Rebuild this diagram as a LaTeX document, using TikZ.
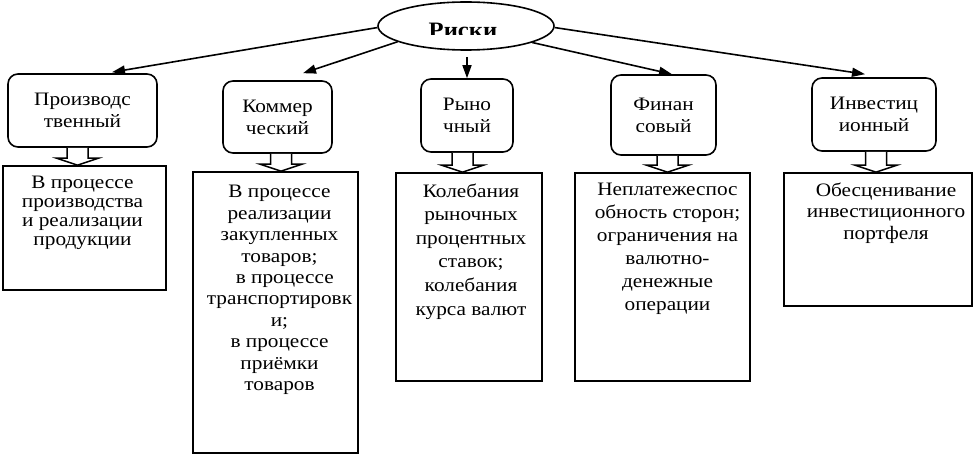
\documentclass[tikz,border=0pt]{standalone}
\usepackage{fontspec}
\setmainfont{Liberation Serif}[FakeStretch=1.12]
\usetikzlibrary{calc,shapes.geometric,arrows.meta}
\begin{document}
\begin{tikzpicture}[x=1pt,y=-1pt,
  topbox/.style={draw, line width=1.6pt, rounded corners=10pt, inner sep=0pt, align=center,
    font=\fontsize{19}{22}\selectfont},
  botbox/.style={draw, line width=1.6pt, inner sep=0pt},
  bottext/.style={anchor=north, inner sep=0pt, align=center},
  arr/.style={line width=1.6pt, -{Triangle[length=13pt,width=9pt]}},
  blockarrow/.style={draw, line width=1.5pt, fill=white, line join=miter}
]
\useasboundingbox (0,0) rectangle (973,462);

% root ellipse
\node[ellipse, draw, line width=1.6pt, minimum width=176pt, minimum height=48pt, inner sep=0pt] (ell) at (466,26) {};
\begin{scope}
  \clip (380,0) rectangle (560,35);
  \node[anchor=base, inner sep=0pt, font=\bfseries\fontsize{22}{22}\selectfont] (riski) at (463,37.5) {Риски};
\end{scope}

% category boxes
\node[topbox, minimum width=149pt, minimum height=73pt] (p1) at (82.5,110.5) {Производс\\твенный};
\node[topbox, minimum width=109pt, minimum height=72pt] (p2) at (277.5,117) {Коммер\\ческий};
\node[topbox, minimum width=92pt, minimum height=73pt] (p3) at (467,115.5) {Рыно\\чный};
\node[topbox, minimum width=105pt, minimum height=80pt] (p4) at (663.5,115) {Финан\\совый};
\node[topbox, minimum width=124pt, minimum height=73pt] (p5) at (874,114.5) {Инвестиц\\ионный};

% description boxes
\node[botbox, minimum width=163pt, minimum height=124pt] (b1) at (84.5,228) {};
\node[botbox, minimum width=165pt, minimum height=281pt] (b2) at (275.5,312.5) {};
\node[botbox, minimum width=146pt, minimum height=208pt] (b3) at (469,277) {};
\node[botbox, minimum width=175pt, minimum height=208pt] (b4) at (662.5,277) {};
\node[botbox, minimum width=188pt, minimum height=133pt] (b5) at (878,239.5) {};

\node[bottext, font=\fontsize{19}{18.8}\selectfont] (t1) at ([xshift=-2pt,yshift=-11pt]b1.north)
  {В процессе\\производства\\и реализации\\продукции};
\node[bottext, font=\fontsize{19}{21.4}\selectfont] (t2) at ([xshift=4pt,yshift=-14pt]b2.north)
  {В процессе\\реализации\\закупленных\\товаров;\\\ \ в процессе\\транспортировк\\и;\\в процессе\\приёмки\\товаров};
\node[bottext, font=\fontsize{19}{23.6}\selectfont] (t3) at ([xshift=2pt,yshift=-11pt]b3.north)
  {Колебания\\рыночных\\процентных\\ставок;\\колебания\\курса валют};
\node[bottext, font=\fontsize{19}{23}\selectfont] (t4) at ([xshift=5pt,yshift=-11pt]b4.north)
  {Неплатежеспос\\обность сторон;\\ограничения на\\валютно-\\денежные\\операции};
\node[bottext, font=\fontsize{19}{21.7}\selectfont] (t5) at ([xshift=8pt,yshift=-10pt]b5.north)
  {Обесценивание\\инвестиционного\\портфеля};

% arrows from root
\draw[arr] (ell.181) -- ([xshift=29.5pt,yshift=1pt]p1.north);
\draw[arr] (ell.193) -- ([xshift=25.5pt,yshift=7pt]p2.north);
\coordinate (mid) at (467,57);
\draw[arr] (mid) -- (p3.north);
\draw[arr] (ell.346) -- ([xshift=8.5pt]p4.north);
\draw[arr] (ell.359) -- ([xshift=-9pt,yshift=3pt]p5.north);

% block arrows
\newcommand\blockarr[3]{%
  \path[blockarrow] let \p1=(#1.south), \p2=(#2.north) in
    ({(#3-10.5)*1pt},\y1) -- ({(#3-10.5)*1pt},{\y2+7pt}) -- ({(#3-21)*1pt},{\y2+7pt})
    -- ({#3*1pt},\y2) -- ({(#3+21)*1pt},{\y2+7pt}) -- ({(#3+10.5)*1pt},{\y2+7pt})
    -- ({(#3+10.5)*1pt},\y1);}
\blockarr{p1}{b1}{77.5}
\blockarr{p2}{b2}{281}
\blockarr{p3}{b3}{462.5}
\blockarr{p4}{b4}{667.5}
\blockarr{p5}{b5}{876}
\end{tikzpicture}
\end{document}
